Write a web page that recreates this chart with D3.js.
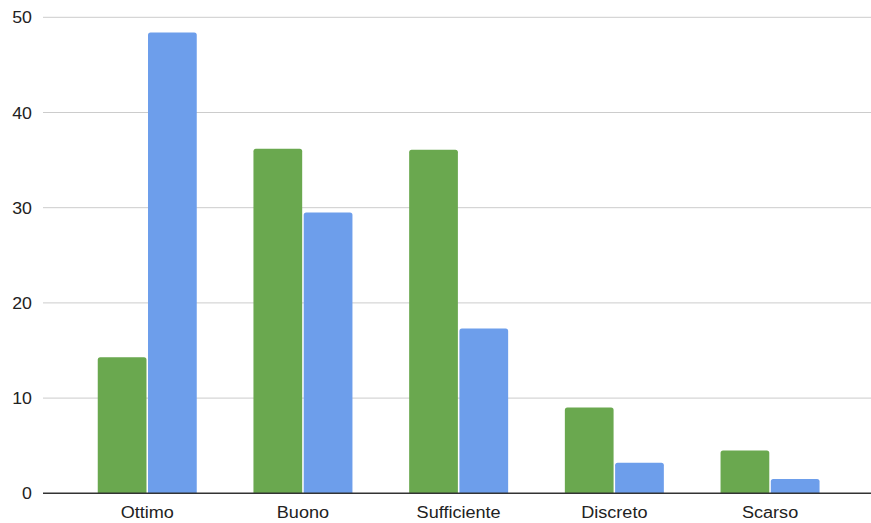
<!DOCTYPE html>
<html><head><meta charset="utf-8">
<script src="https://cdn.jsdelivr.net/npm/d3@7"></script>
<style>body{margin:0;background:#fff}svg{display:block}text{font-family:"Liberation Sans",Arial,sans-serif}</style>
</head><body><svg id="c" width="871" height="523"></svg>
<script>
const categories = ["Ottimo","Buono","Sufficiente","Discreto","Scarso"];
const seriesGreen = [14.3, 36.2, 36.1, 9.0, 4.5];
const seriesBlue = [48.4, 29.5, 17.3, 3.2, 1.5];
const yTicks = [0,10,20,30,40,50];
const colors = ["#6aa84f","#6d9eeb"];

const svg = d3.select("#c");
const y = d3.scaleLinear().domain([0,50]).range([493.3,17.3]);
const x = d3.scaleBand().domain(categories).range([69.4,847.9]);
const gx = d3.scaleBand().domain([0,1]).range([x.bandwidth()/2-49.5, x.bandwidth()/2+49.5]).paddingInner(3/99);

// gridlines
svg.append("g").selectAll("line").data(yTicks.filter(d=>d>0)).join("line")
  .attr("x1",43).attr("x2",871).attr("y1",d=>y(d)).attr("y2",d=>y(d))
  .attr("stroke","#cccccc").attr("stroke-width",1);

const yAxis = d3.axisLeft(y).tickValues(yTicks).tickSize(0).tickPadding(0);
const ya = svg.append("g").attr("transform","translate(32,0)").call(yAxis);
ya.select(".domain").remove();
ya.selectAll("text").attr("font-size",16).attr("fill","#222").attr("dy","0.35em")
  .attr("transform","scale(1.11,1)");

function barPath(x0,w,yt,yb,r){
  r=Math.min(r,(yb-yt));
  return `M${x0},${yb}V${yt+r}Q${x0},${yt} ${x0+r},${yt}H${x0+w-r}Q${x0+w},${yt} ${x0+w},${yt+r}V${yb}Z`;
}
const data = categories.map((c,i)=>({c,vals:[seriesGreen[i],seriesBlue[i]]}));
const groups = svg.append("g").selectAll("g").data(data).join("g")
  .attr("transform",d=>`translate(${x(d.c)},0)`);
groups.selectAll("path").data(d=>d.vals.map((v,k)=>({v,k}))).join("path")
  .attr("d",d=>barPath(gx(d.k),gx.bandwidth(),y(d.v),y(0),2.5))
  .attr("fill",d=>colors[d.k]);

// baseline
svg.append("line").attr("x1",43).attr("x2",871).attr("y1",y(0)).attr("y2",y(0))
  .attr("stroke","#333").attr("stroke-width",1.5);

const xAxis = d3.axisBottom(x).tickSize(0).tickPadding(0);
const xa = svg.append("g").attr("transform","translate(0,512)").call(xAxis);
xa.select(".domain").remove();
xa.selectAll("text").attr("font-size",16).attr("fill","#222").attr("dy","0.35em")
  .attr("transform","scale(1.13,1)");
</script></body></html>
